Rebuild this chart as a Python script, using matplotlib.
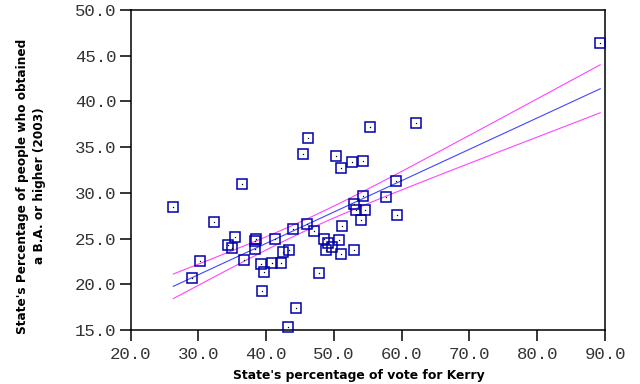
import numpy as np
import matplotlib
matplotlib.use("Agg")
import matplotlib.pyplot as plt

# State's percentage of vote for Kerry (2004)
kerry = [26.31, 29.12, 30.30, 32.36, 34.43, 35.02, 35.46, 36.49, 36.79, 38.32,
         38.56, 38.41, 39.29, 39.74, 39.44, 41.36, 40.92, 42.20, 42.54, 43.43,
         44.02, 44.46, 43.28, 45.49, 46.23, 46.08, 47.11, 47.85, 48.59, 49.18,
         48.88, 49.72, 50.36, 50.80, 51.10, 51.24, 51.10, 52.72, 53.01, 52.93,
         54.34, 54.34, 53.31, 54.64, 54.05, 55.37, 57.73, 59.21, 59.36, 62.16,
         89.30]
# State's percentage of people with a B.A. or higher (2003)
ba = [28.42, 20.65, 22.51, 26.78, 24.26, 23.97, 25.14, 30.94, 22.62, 24.77,
      24.92, 23.83, 22.19, 21.31, 19.23, 24.92, 22.30, 22.30, 23.50, 23.72,
      26.01, 17.37, 15.30, 34.22, 35.97, 26.56, 25.80, 21.20, 24.90, 24.57,
      23.72, 24.05, 34.00, 24.81, 23.28, 26.34, 32.69, 33.34, 23.72, 28.78,
      33.45, 29.71, 28.09, 28.09, 27.00, 37.18, 29.51, 31.26, 27.55, 37.62,
      46.36]

x_ticks = [20, 30, 40, 50, 60, 70, 80, 90]
y_ticks = [15, 20, 25, 30, 35, 40, 45, 50]
x_label = "State's percentage of vote for Kerry"
y_label = "State's Percentage of people who obtained\na B.A. or higher (2003)"

x = np.array(kerry)
y = np.array(ba)
n = len(x)
slope, intercept = np.polyfit(x, y, 1)
resid = y - (slope * x + intercept)
s = np.sqrt(np.sum(resid ** 2) / (n - 2))
sxx = np.sum((x - x.mean()) ** 2)
k = 1.0  # band = fit +/- one standard error of the mean prediction
xs = np.linspace(x.min(), x.max(), 200)
fit = slope * xs + intercept
half = k * s * np.sqrt(1.0 / n + (xs - x.mean()) ** 2 / sxx)

fig = plt.figure(figsize=(6.4, 3.84), dpi=100)
W, H = 640, 384
ax = fig.add_axes([130.5 / W, (H - 330) / H, 474.5 / W, 320 / H])

marker_col = "#0000AA"
ax.plot(xs, fit, color="#4444FF", lw=0.8, zorder=2)
ax.plot(xs, fit + half, color="#FF44FF", lw=0.8, zorder=2)
ax.plot(xs, fit - half, color="#FF44FF", lw=0.8, zorder=2)
ax.plot(x, y, linestyle="none", marker="s", markersize=6.8, markerfacecolor="none",
        markeredgecolor=marker_col, markeredgewidth=1.1, zorder=3, clip_on=False)
ax.plot(x, y, linestyle="none", marker="s", markersize=0.9, markerfacecolor="black",
        markeredgecolor="black", markeredgewidth=0, zorder=4, clip_on=False)

ax.set_xlim(20, 90)
ax.set_ylim(15, 50)
ax.set_xticks(x_ticks)
ax.set_yticks(y_ticks)
ax.set_xticklabels([f"{v:.1f}" for v in x_ticks])
ax.set_yticklabels([f"{v:.1f}" for v in y_ticks])
for sp in ax.spines.values():
    sp.set_linewidth(1.1)
    sp.set_color("black")
ax.tick_params(direction="out", length=8, width=1.1, colors="black", labelsize=12.5)
ax.tick_params(axis="x", pad=4)
ax.tick_params(axis="y", pad=2)
for lab in ax.get_xticklabels() + ax.get_yticklabels():
    lab.set_family("Liberation Mono")
    lab.set_color("#333333")

fig.text(359 / W, 1 - 375 / H, x_label, ha="center", va="center",
         fontsize=8.9, fontweight="bold", family="DejaVu Sans")
fig.text(31 / W, 1 - 186 / H, y_label, ha="center", va="center", rotation=90,
         fontsize=8.7, fontweight="bold", family="DejaVu Sans",
         multialignment="center", linespacing=1.45)

fig.savefig("out.png", dpi=100)
